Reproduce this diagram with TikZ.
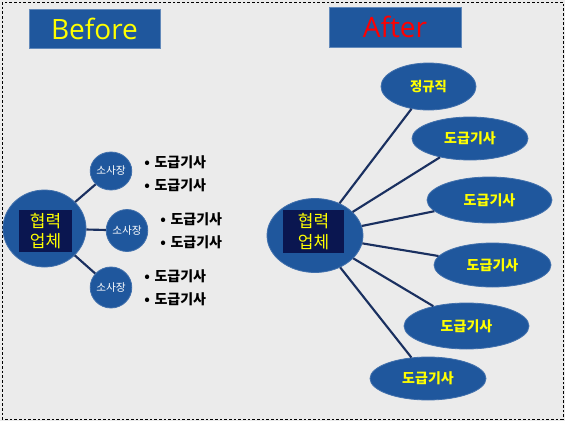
\documentclass[tikz,border=0pt]{standalone}
\usepackage{fontspec}
\setmainfont{Open Sans}
\newfontfamily\kr{Noto Sans CJK KR}
\usetikzlibrary{shapes.geometric}
\definecolor{bgc}{HTML}{EBEBEB}
\definecolor{blu}{HTML}{1F579D}
\definecolor{navyb}{HTML}{0A1650}
\definecolor{lnc}{HTML}{1A3060}
\definecolor{ylw}{HTML}{FFFF00}
\tikzset{
  titlebox/.style={fill=blu, draw=blu!70!white, line width=0.5pt, inner sep=0pt, font=\fontsize{21}{21}\selectfont},
  blob/.style={ellipse, fill=blu, draw=blu!85!white, line width=0.6pt, inner sep=0pt},
  core/.style={fill=navyb, inner sep=0pt, text=ylw, align=center, font=\kr\fontsize{12.75}{15.5}\selectfont},
  boss/.style={blob, text=white, font=\kr\fontsize{8}{8}\selectfont},
  job/.style={blob, text=ylw, font=\kr\bfseries\fontsize{10.5}{10.5}\selectfont},
  item/.style={anchor=west, inner sep=0pt, font=\kr\bfseries\fontsize{10.5}{10.5}\selectfont},
  link/.style={draw=lnc, line width=1.6pt}
}
\begin{document}
\begin{tikzpicture}[x=0.75pt,y=-0.75pt]
\useasboundingbox (0,0) rectangle (565,421);
\fill[bgc] (0,0) rectangle (565,421);
\draw[black, dashed, line width=0.5pt, dash pattern=on 2pt off 1.5pt] (2,2) rectangle (563,419);
% titles
\node[titlebox, minimum width=98.25pt, minimum height=29.25pt, text=ylw] (before) at (94.5,28.5) {Before};
\node[titlebox, minimum width=99pt, minimum height=30pt, text=red] (after) at (395,27) {After};
% left
\node[blob, minimum width=62.25pt, minimum height=57.75pt] (lc) at (44.5,228.5) {};
\node[core, minimum width=39.75pt, minimum height=31.5pt] (lct) at (45.5,231) {협력\\업체};
\node[boss, minimum width=30pt, minimum height=28.5pt] (s1) at (111,171) {소사장};
\node[boss, minimum width=30pt, minimum height=31.5pt] (s2) at (127,230.5) {소사장};
\node[boss, minimum width=30pt, minimum height=30.75pt] (s3) at (111,287.5) {소사장};
\draw[link] (lc) -- (s1);
\draw[link] (lc) -- (s2);
\draw[link] (lc) -- (s3);
\node[item] (a1) at (144,162) {•\hspace{3.5pt}도급기사};
\node[item] (a2) at (144,185) {•\hspace{3.5pt}도급기사};
\node[item] (b1) at (160,219.5) {•\hspace{3.5pt}도급기사};
\node[item] (b2) at (160,242) {•\hspace{3.5pt}도급기사};
\node[item] (c1) at (144,276.5) {•\hspace{3.5pt}도급기사};
\node[item] (c2) at (144,299.5) {•\hspace{3.5pt}도급기사};
% right
\node[blob, minimum width=72pt, minimum height=55.5pt] (rc) at (315,235.5) {};
\node[core, minimum width=45.75pt, minimum height=32.25pt] (rct) at (313.5,231.5) {협력\\업체};
\node[job, minimum width=71.25pt, minimum height=35.25pt, font=\kr\bfseries\fontsize{10}{10}\selectfont] (e1) at (428.5,86.5) {정규직};
\node[job, minimum width=87pt, minimum height=32.25pt] (e2) at (470,138.5) {도급기사};
\node[job, minimum width=93.75pt, minimum height=34.5pt] (e3) at (489.5,200) {도급기사};
\node[job, minimum width=87.75pt, minimum height=33pt] (e4) at (492.5,265) {도급기사};
\node[job, minimum width=93.75pt, minimum height=34.5pt] (e5) at (466.5,326) {도급기사};
\node[job, minimum width=87pt, minimum height=32.25pt] (e6) at (428,378.5) {도급기사};
\foreach \e in {e1,e2,e3,e4,e5,e6} \draw[link] (rc) -- (\e);
\end{tikzpicture}
\end{document}
